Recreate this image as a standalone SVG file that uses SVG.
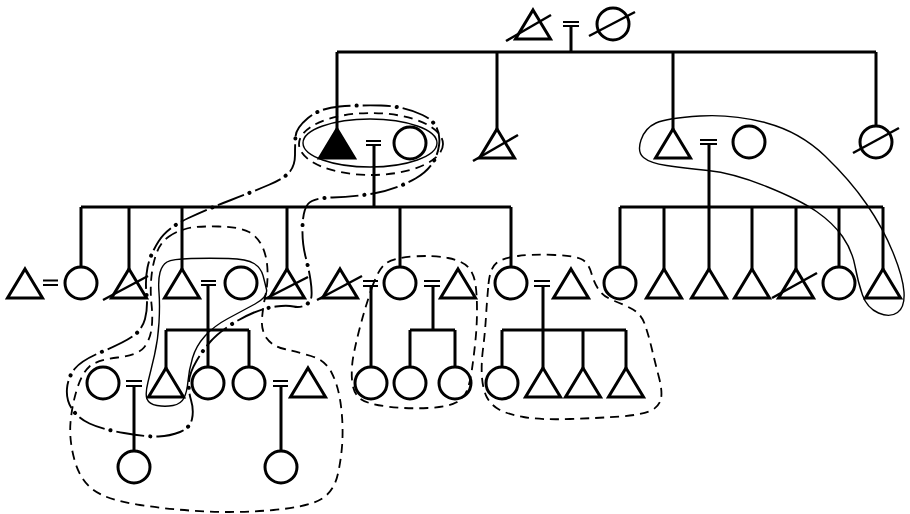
<svg xmlns="http://www.w3.org/2000/svg" xmlns:xlink="http://www.w3.org/1999/xlink" width="910" height="514" viewBox="0 0 910 514">
<style>
.s{fill:none;stroke:#000;stroke-width:3}
.f{fill:#000;stroke:#000;stroke-width:3}
.l{stroke:#000;stroke-width:3;fill:none}
.sl{stroke:#000;stroke-width:2.5;fill:none}
.eq{stroke:#000;stroke-width:2;fill:none}
.bs{fill:none;stroke:#000;stroke-width:1.4}
.bd{fill:none;stroke:#000;stroke-width:1.8;stroke-dasharray:9 6}
.bdd{fill:none;stroke:#000;stroke-width:1.9;stroke-dasharray:28 6 0.1 6}
.bdot{fill:none;stroke:#000;stroke-width:4;stroke-linecap:round;stroke-dasharray:0.1 40;stroke-dashoffset:-34}
</style>
<defs>
<path id="tri" d="M0,-14.5 L17.5,14.5 L-17.5,14.5 Z"/>
<circle id="cir" cx="0" cy="0" r="16"/>
<path id="ddloop" d="M295.5,136.5 Q296,128 308,118 Q320,108 339.5,106.5 Q359,105 381,105.5 Q403,106 422.5,115 Q442,124 439,145.5 Q436,167 415.5,178.5 Q395,190 373.5,193.5 Q352,197 332.5,197.5 Q313,198 308,204 Q303,210 302.5,226.5 Q302,243 305.5,256.5 Q309,270 310.5,280 Q312,290 311.5,296 Q311,302 305.5,305 Q300,308 293.5,306.5 Q287,305 276,306.5 Q265,308 254,312.5 Q243,317 230.5,325 Q218,333 210.5,341.5 Q203,350 196.5,361 Q190,372 189,381 Q188,390 191,400 Q194,410 192,419 Q190,428 180,432 Q170,436 158.5,436.5 Q147,437 124,433 Q101,429 89.5,423.5 Q78,418 72,409 Q66,400 67,388.5 Q68,377 75,368.5 Q82,360 102.5,351.5 Q123,343 132.5,336.5 Q142,330 145,319 Q148,308 146.5,294 Q145,280 147.5,267.5 Q150,255 158.5,241.5 Q167,228 188.5,218 Q210,208 231,200 Q252,192 268.5,185 Q285,178 290,171.5 Q295,165 295,155 Q295,145 295.5,136.5 Z"/>
</defs>
<rect width="910" height="514" fill="#fff"/>

<g id="connectors">
<path class="eq" d="M563,22H579M563,26H579"/>
<path class="l" d="M571,26V52M337,52H876M337,52V129M497,52V129M673,52V129M876,52V126"/>
<path class="eq" d="M366,141H381M366,145H381"/>
<path class="l" d="M374,145V207M81,207H511M81,207V267M129,207V269M182,207V269M287,207V269M400,207V267M511,207V267"/>
<path class="eq" d="M700,140H717M700,144H717"/>
<path class="l" d="M709,144V269M620,207H883M620,207V267M664,207V269M752,207V269M796,207V269M839,207V267M883,207V269"/>
<path class="eq" d="M43,280.5H58M43,285H58"/>
<path class="eq" d="M201,281H216M201,285H216"/>
<path class="l" d="M208,285V367M166,330H249M166,330V368M249,330V367"/>
<path class="eq" d="M363,281H378M363,286H378"/>
<path class="l" d="M371,286V367"/>
<path class="eq" d="M424,281H440M424,286H440"/>
<path class="l" d="M433,286V330M410,330H455M410,330V367M455,330V367"/>
<path class="eq" d="M534,281H550M534,286H550"/>
<path class="l" d="M543,286V368M502,330H626M502,330V367M583,330V368M626,330V368"/>
<path class="eq" d="M126,381H142M126,386H142"/>
<path class="l" d="M134,386V451"/>
<path class="eq" d="M273,381H288M273,386H288"/>
<path class="l" d="M281,386V451"/>
</g>

<g id="boundaries">
<ellipse class="bs" cx="370" cy="143" rx="67" ry="24"/>
<ellipse class="bd" cx="371" cy="144" rx="72" ry="31"/>
<use xlink:href="#ddloop" class="bdd"/>
<use xlink:href="#ddloop" class="bdot"/>
<path class="bd" d="M169,236.5 Q177,231 187,228.5 Q197,226 218.5,226.5 Q240,227 249,232 Q258,237 262.5,247 Q267,257 267.5,270 Q268,283 265.5,295 Q263,307 262,318.5 Q261,330 266.5,338 Q272,346 284.5,349 Q297,352 311,356 Q325,360 331.5,372.5 Q338,385 340.5,402.5 Q343,420 342.5,437.5 Q342,455 338,473.5 Q334,492 320.5,499.5 Q307,507 273.5,510 Q240,513 206.5,511.5 Q173,510 140,505 Q107,500 93.5,490 Q80,480 74.5,460 Q69,440 70.5,422.5 Q72,405 77,389 Q82,373 89.5,366.5 Q97,360 117.5,357.5 Q138,355 144,347.5 Q150,340 151.5,329 Q153,318 151.5,304 Q150,290 151.5,276 Q153,262 157,252 Q161,242 169,236.5 Z"/>
<path class="bs" d="M167,262 Q172,259 191,258.5 Q210,258 228.5,258.5 Q247,259 254,263.5 Q261,268 263,275.5 Q265,283 266.5,289.5 Q268,297 255,304 Q242,311 228,318.5 Q214,326 205,336 Q196,346 192.5,358 Q189,370 188,381 Q187,392 184,398 Q181,404 173,405.5 Q165,407 157,405.5 Q149,404 147,399 Q145,394 148,382 Q151,370 154.5,355 Q158,340 159,322.5 Q160,305 159,292.5 Q158,280 160,272.5 Q162,265 167,262 Z"/>
<path class="bs" d="M643.5,157.5 Q637,152 641,140 Q645,128 656,123 Q667,118 700,116 Q733,114 766.5,123 Q800,132 825,156 Q850,180 866.5,204 Q883,228 893,252.5 Q903,277 904,292 Q905,307 897.5,312.5 Q890,318 878.5,313 Q867,308 862.5,295 Q858,282 855,266 Q852,250 842.5,236.5 Q833,223 816.5,211.5 Q800,200 766.5,186.5 Q733,173 708,170.5 Q683,168 666.5,165.5 Q650,163 643.5,157.5 Z"/>
<path class="bd" d="M372,287.5 Q378,270 385,264 Q392,258 412.5,256.5 Q433,255 448,258 Q463,261 468.5,267.5 Q474,274 475.5,284.5 Q477,295 477,310 Q477,325 475.5,340 Q474,355 472,369 Q470,383 467,390.5 Q464,398 456,402.5 Q448,407 427.5,408 Q407,409 387,406.5 Q367,404 360,398.5 Q353,393 352,380 Q351,367 354,352.5 Q357,338 361.5,321.5 Q366,305 372,287.5 Z"/>
<path class="bd" d="M488.5,284 Q490,268 496.5,263 Q503,258 518,256 Q533,254 555,255 Q577,256 583,260 Q589,264 591.5,273.5 Q594,283 599,290 Q604,297 614.5,301 Q625,305 633,309.5 Q641,314 644.5,323.5 Q648,333 651.5,347.5 Q655,362 659,377.5 Q663,393 660.5,400.5 Q658,408 649,411.5 Q640,415 620,416.5 Q600,418 570,419 Q540,420 523.5,417 Q507,414 499,409.5 Q491,405 487,397.5 Q483,390 482,377.5 Q481,365 483,349 Q485,333 486,316.5 Q487,300 488.5,284 Z"/>
</g>

<g id="g0-father"><use xlink:href="#tri" class="s" x="533" y="24.5"/><path class="sl" d="M506,41L551,15"/></g>
<g id="g0-mother"><use xlink:href="#cir" class="s" x="613" y="24"/><path class="sl" d="M589,36L635,12"/></g>

<g id="g1-ego"><use xlink:href="#tri" class="f" x="337" y="143.5"/></g>
<g id="g1-ego-wife"><use xlink:href="#cir" class="s" x="410" y="143"/></g>
<g id="g1-brother-dead"><use xlink:href="#tri" class="s" x="497" y="143.5"/><path class="sl" d="M473,161L518,135"/></g>
<g id="g1-brother"><use xlink:href="#tri" class="s" x="673" y="143.5"/></g>
<g id="g1-brother-wife"><use xlink:href="#cir" class="s" x="749" y="142"/></g>
<g id="g1-sister-dead"><use xlink:href="#cir" class="s" x="876" y="142"/><path class="sl" d="M853,153L899,128"/></g>

<g id="g2-a-husband"><use xlink:href="#tri" class="s" x="25" y="283.5"/></g>
<g id="g2-a"><use xlink:href="#cir" class="s" x="81" y="283"/></g>
<g id="g2-b-dead"><use xlink:href="#tri" class="s" x="129" y="283.5"/><path class="sl" d="M103,300L148,276"/></g>
<g id="g2-c"><use xlink:href="#tri" class="s" x="182" y="283.5"/></g>
<g id="g2-c-wife"><use xlink:href="#cir" class="s" x="241" y="283"/></g>
<g id="g2-d-dead"><use xlink:href="#tri" class="s" x="287" y="283.5"/><path class="sl" d="M265,299L308,277"/></g>
<g id="g2-e-husband-dead"><use xlink:href="#tri" class="s" x="340" y="283.5"/><path class="sl" d="M317,300L362,276"/></g>
<g id="g2-e"><use xlink:href="#cir" class="s" x="400" y="283"/></g>
<g id="g2-e-husband2"><use xlink:href="#tri" class="s" x="458" y="283.5"/></g>
<g id="g2-f"><use xlink:href="#cir" class="s" x="511" y="283"/></g>
<g id="g2-f-husband"><use xlink:href="#tri" class="s" x="571" y="283.5"/></g>
<g id="g2-r1"><use xlink:href="#cir" class="s" x="620" y="283"/></g>
<g id="g2-r2"><use xlink:href="#tri" class="s" x="664" y="283.5"/></g>
<g id="g2-r3"><use xlink:href="#tri" class="s" x="709" y="283.5"/></g>
<g id="g2-r4"><use xlink:href="#tri" class="s" x="752" y="283.5"/></g>
<g id="g2-r5-dead"><use xlink:href="#tri" class="s" x="796" y="283.5"/><path class="sl" d="M772,298L817,273"/></g>
<g id="g2-r6"><use xlink:href="#cir" class="s" x="839" y="283"/></g>
<g id="g2-r7"><use xlink:href="#tri" class="s" x="883" y="283.5"/></g>

<g id="g3-a-wife"><use xlink:href="#cir" class="s" x="103" y="383"/></g>
<g id="g3-a"><use xlink:href="#tri" class="s" x="166" y="382.5"/></g>
<g id="g3-b"><use xlink:href="#cir" class="s" x="208" y="383"/></g>
<g id="g3-c"><use xlink:href="#cir" class="s" x="249" y="383"/></g>
<g id="g3-c-husband"><use xlink:href="#tri" class="s" x="308" y="382.5"/></g>
<g id="g3-d"><use xlink:href="#cir" class="s" x="371" y="383"/></g>
<g id="g3-e"><use xlink:href="#cir" class="s" x="410" y="383"/></g>
<g id="g3-f"><use xlink:href="#cir" class="s" x="455" y="383"/></g>
<g id="g3-g"><use xlink:href="#cir" class="s" x="502" y="383"/></g>
<g id="g3-h"><use xlink:href="#tri" class="s" x="543" y="382.5"/></g>
<g id="g3-i"><use xlink:href="#tri" class="s" x="583" y="382.5"/></g>
<g id="g3-j"><use xlink:href="#tri" class="s" x="626" y="382.5"/></g>

<g id="g4-a"><use xlink:href="#cir" class="s" x="134" y="467"/></g>
<g id="g4-b"><use xlink:href="#cir" class="s" x="281" y="467"/></g>
</svg>
